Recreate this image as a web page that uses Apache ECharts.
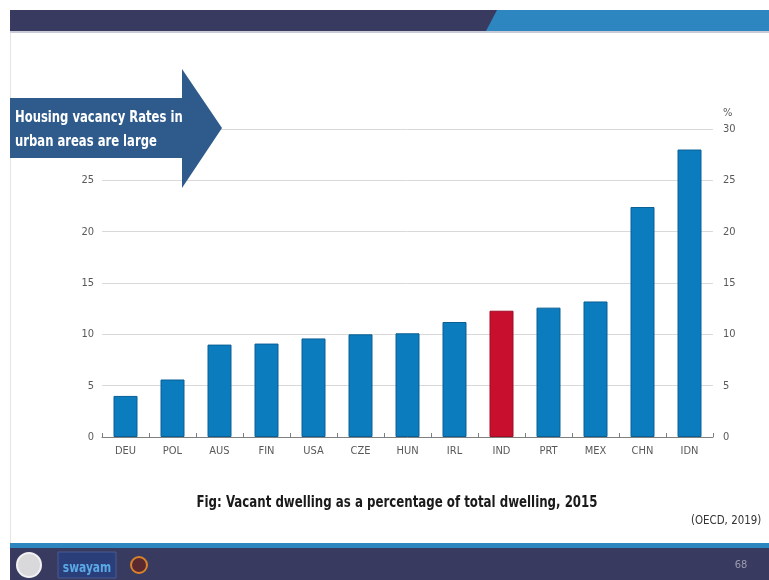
<!DOCTYPE html>
<html>
<head>
<meta charset="utf-8">
<script src="https://cdn.jsdelivr.net/npm/echarts@6/dist/echarts.min.js"></script>
<style>
  html, body { margin: 0; padding: 0; background: #ffffff; }
  #chart { width: 769px; height: 580px; }
</style>
</head>
<body>
<div id="chart"></div>
<script>
// Vacant dwellings as a share of the total dwelling stock, 2015 (%)
const countries = ['DEU', 'POL', 'AUS', 'FIN', 'USA', 'CZE', 'HUN', 'IRL', 'IND', 'PRT', 'MEX', 'CHN', 'IDN'];
const vacancyRates = [4.0, 5.6, 9.0, 9.1, 9.6, 10.0, 10.1, 11.2, 12.3, 12.6, 13.2, 22.4, 28.0];
const highlighted = 'IND';
const yTicks = { min: 0, max: 30, step: 5 };

const headline = ['Housing vacancy Rates in', 'urban areas are large'];
const caption = 'Fig: Vacant dwelling as a percentage of total dwelling, 2015';
const source = '(OECD, 2019)';
const pageNumber = '68';

const BLUE = '#0b7dbf';
const RED = '#c8102e';
const NAVY = '#383a5f';
const STRIPE = '#2e86c1';
const narrow = '"Liberation Sans Narrow", "DejaVu Sans Condensed", Arial, sans-serif';
const bodyFont = '"Open Sans", "Liberation Sans", sans-serif';

const barData = countries.map((c, i) => ({
  value: vacancyRates[i],
  itemStyle: c === highlighted
    ? { color: RED, borderColor: '#9e0c24', borderWidth: 1 }
    : { color: BLUE, borderColor: '#0a5f95', borderWidth: 1 }
}));

const axisLabelStyle = { color: '#595959', fontFamily: narrow, fontSize: 11 };

const chart = echarts.init(document.getElementById('chart'), null, { renderer: 'canvas' });

chart.setOption({
  backgroundColor: '#ffffff',
  animation: false,
  grid: { left: 102, right: 56, top: 129, bottom: 143 },
  xAxis: {
    type: 'category',
    data: countries,
    axisLine: { show: true, lineStyle: { color: '#7f7f7f', width: 1 } },
    axisTick: { show: true, inside: true, length: 4, lineStyle: { color: '#7f7f7f' } },
    axisLabel: Object.assign({ margin: 9 }, axisLabelStyle),
    splitLine: { show: false }
  },
  yAxis: [
    {
      type: 'value',
      position: 'left',
      min: yTicks.min, max: yTicks.max, interval: yTicks.step,
      axisLine: { show: false },
      axisTick: { show: false },
      axisLabel: Object.assign({ margin: 8 }, axisLabelStyle),
      splitLine: { show: true, lineStyle: { color: '#d9d9d9', width: 1 } }
    },
    {
      type: 'value',
      position: 'right',
      name: '%',
      nameLocation: 'end',
      nameGap: 10,
      nameTextStyle: { color: '#595959', fontFamily: narrow, fontSize: 11, align: 'left', padding: [0, 0, 0, 10] },
      min: yTicks.min, max: yTicks.max, interval: yTicks.step,
      axisLine: { show: false },
      axisTick: { show: false },
      axisLabel: Object.assign({ margin: 10 }, axisLabelStyle),
      splitLine: { show: false }
    }
  ],
  series: [{
    type: 'bar',
    yAxisIndex: 0,
    data: barData,
    barWidth: 24
  }],
  graphic: [
    // slide header band
    { type: 'rect', z: 50, shape: { x: 10, y: 10, width: 759, height: 21 }, style: { fill: STRIPE } },
    { type: 'polygon', z: 51, shape: { points: [[10, 10], [497, 10], [486, 31], [10, 31]] }, style: { fill: NAVY } },
    { type: 'rect', z: 50, shape: { x: 10, y: 31, width: 759, height: 2 }, style: { fill: '#c9cbd6' } },
    // left page edge
    { type: 'rect', z: 50, shape: { x: 10, y: 33, width: 1, height: 510 }, style: { fill: '#e4e4e4' } },
    // callout arrow
    {
      type: 'polygon', z: 60,
      shape: { points: [[10, 98], [182, 98], [182, 69], [222, 128], [182, 188], [182, 158], [10, 158]] },
      style: { fill: '#2e5b8b' }
    },
    {
      type: 'text', z: 61, x: 15, y: 106, scaleX: 0.86,
      style: { text: headline.join('\n'), fill: '#ffffff', font: 'bold 15px ' + narrow, lineHeight: 24 }
    },
    // figure caption and source
    {
      type: 'text', z: 61, x: 397, y: 503, scaleX: 0.82,
      style: { text: caption, fill: '#1a1a1a', font: 'bold 16px ' + narrow, align: 'center', verticalAlign: 'middle' }
    },
    {
      type: 'text', z: 61, x: 691, y: 521, scaleX: 0.95,
      style: { text: source, fill: '#333333', font: '12px ' + narrow, verticalAlign: 'middle' }
    },
    // footer band
    { type: 'rect', z: 50, shape: { x: 10, y: 543, width: 759, height: 6 }, style: { fill: STRIPE } },
    { type: 'rect', z: 50, shape: { x: 10, y: 548, width: 759, height: 32 }, style: { fill: NAVY } },
    { type: 'circle', z: 51, shape: { cx: 29, cy: 565, r: 12 }, style: { fill: '#d9d9dc', stroke: '#f2f2f2', lineWidth: 2 } },
    { type: 'rect', z: 51, shape: { x: 58, y: 552, width: 58, height: 26 }, style: { fill: '#2a3f7a', stroke: '#4a5a90', lineWidth: 1 } },
    {
      type: 'text', z: 52, x: 87, y: 568, scaleX: 0.85,
      style: { text: 'swayam', fill: '#5aa8e6', font: 'bold 14px ' + narrow, align: 'center', verticalAlign: 'middle' }
    },
    { type: 'circle', z: 51, shape: { cx: 139, cy: 565, r: 8 }, style: { fill: '#5a2a30', stroke: '#d9832a', lineWidth: 2 } },
    {
      type: 'text', z: 52, x: 741, y: 565,
      style: { text: pageNumber, fill: '#9a9cb0', font: '11px ' + narrow, align: 'center', verticalAlign: 'middle' }
    }
  ]
});
</script>
</body>
</html>
